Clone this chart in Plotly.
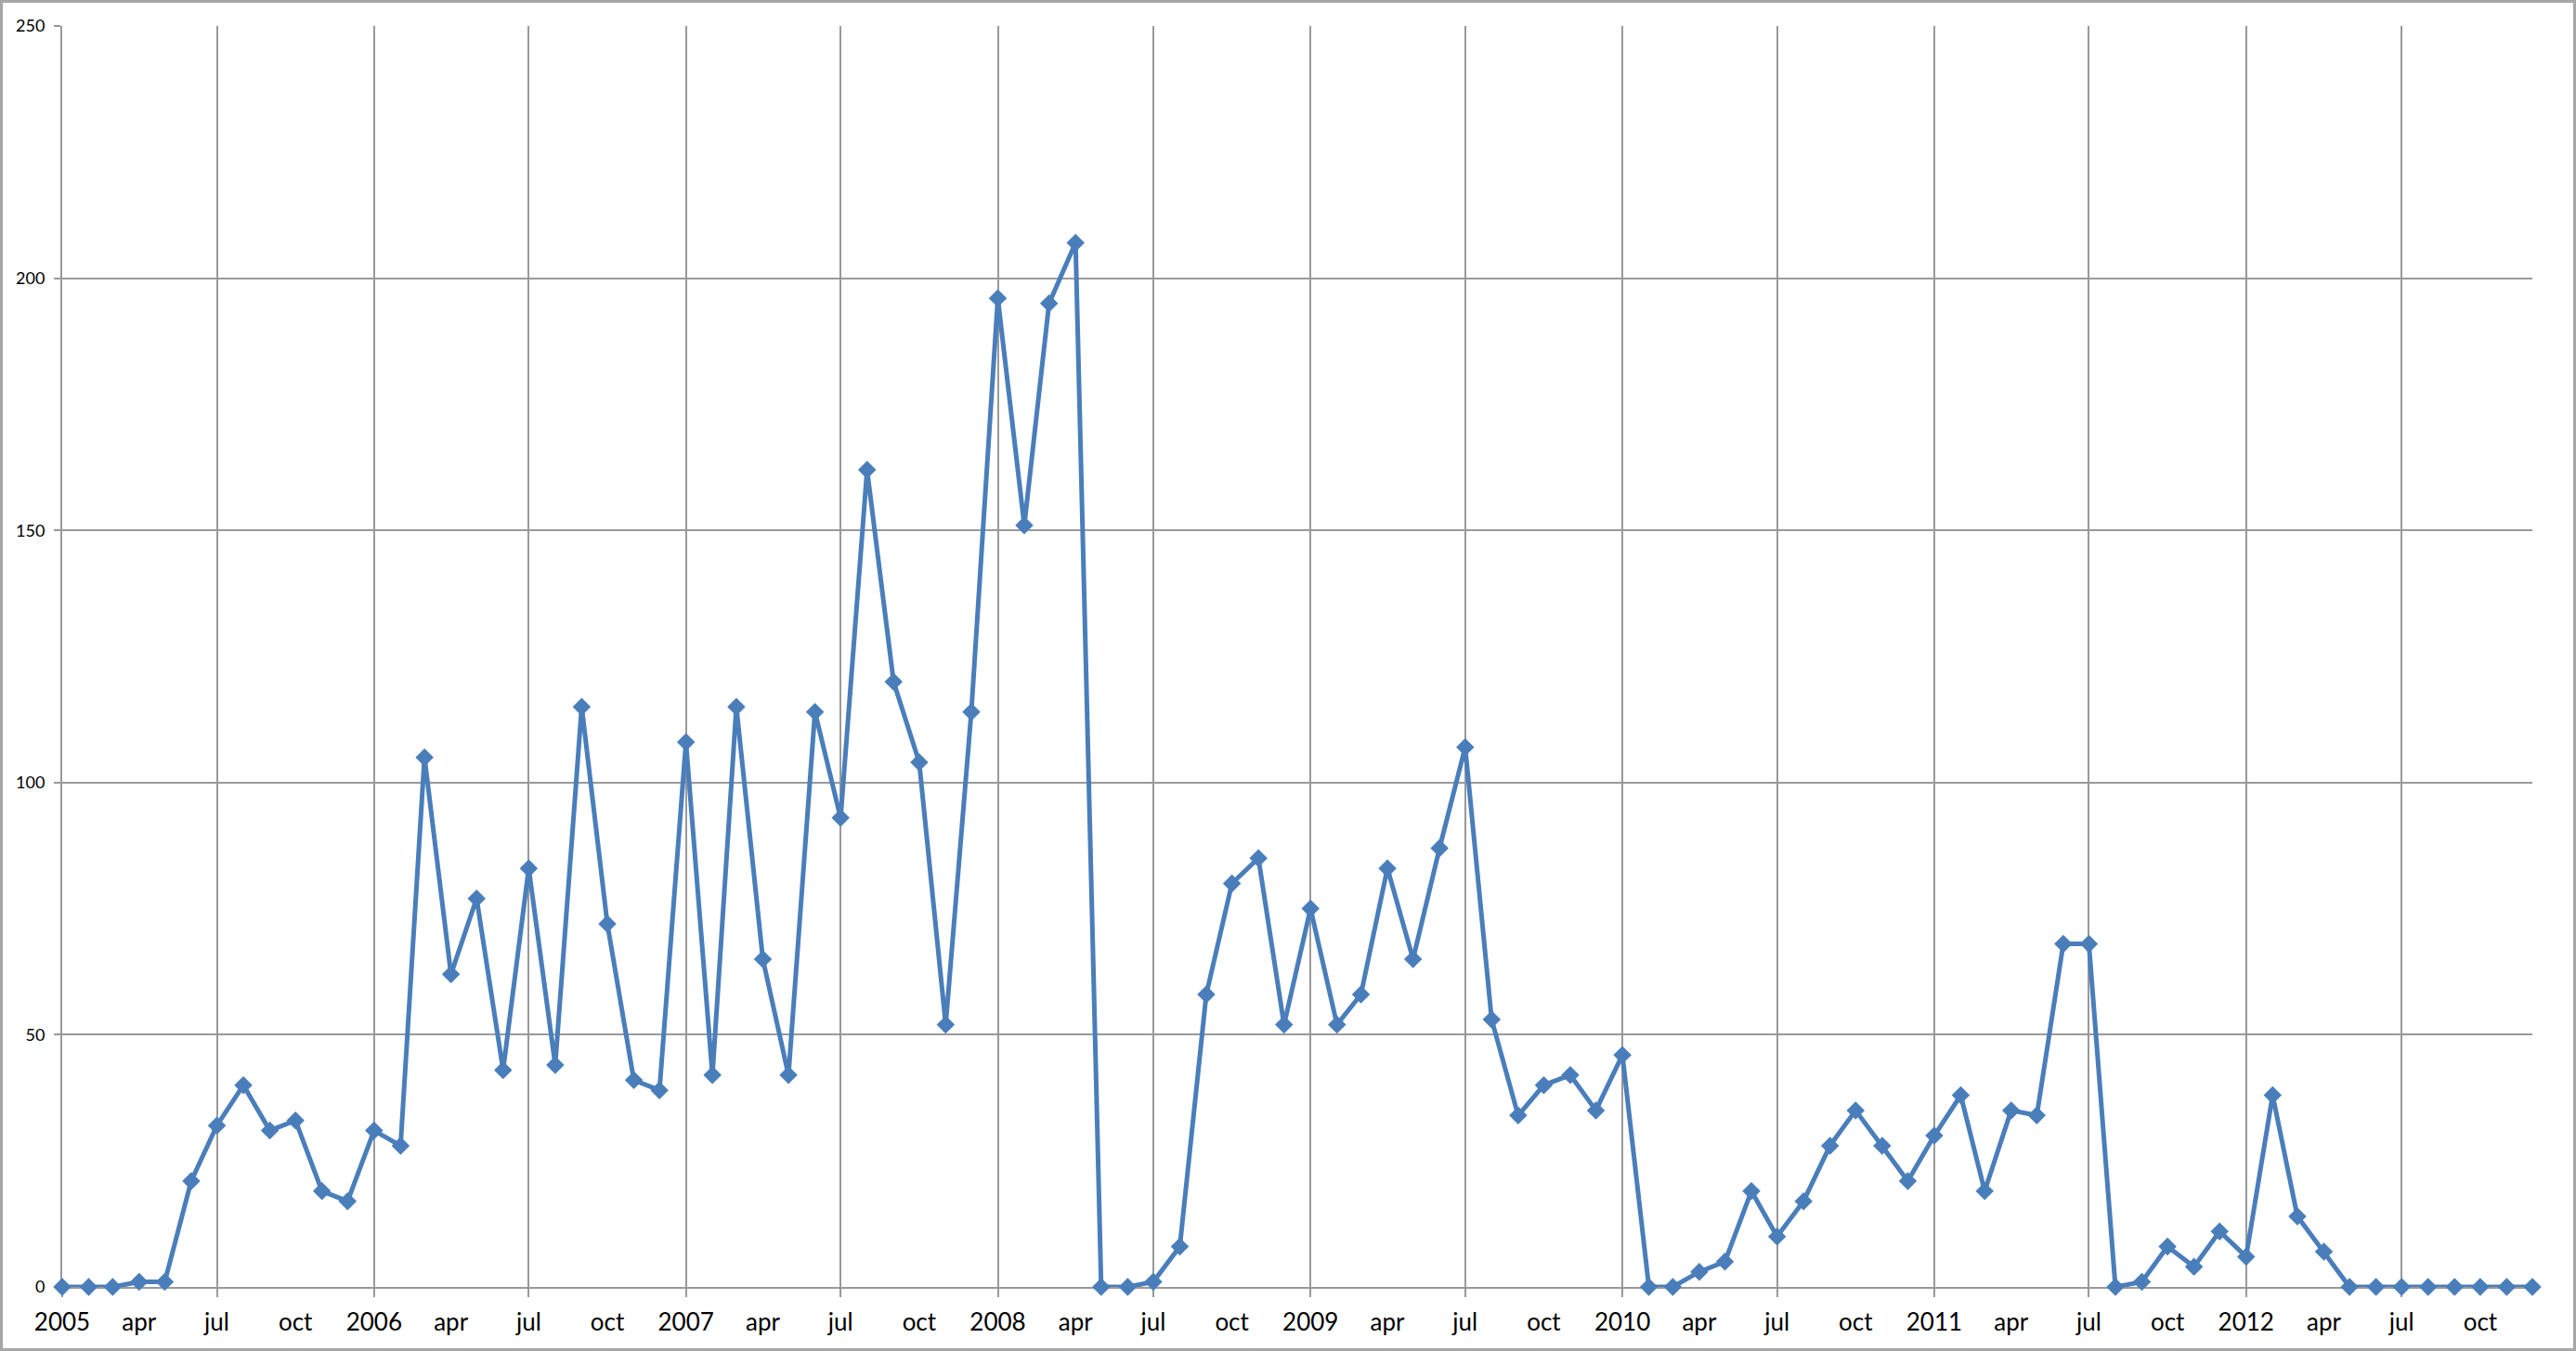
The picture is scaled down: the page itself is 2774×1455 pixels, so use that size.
import pandas as pd
import plotly.graph_objects as go

# monthly counts
counts_2005 = [0, 0, 0, 1, 1, 21, 32, 40, 31, 33, 19, 17]
counts_2006 = [31, 28, 105, 62, 77, 43, 83, 44, 115, 72, 41, 39]
counts_2007 = [108, 42, 115, 65, 42, 114, 93, 162, 120, 104, 52, 114]
counts_2008 = [196, 151, 195, 207, 0, 0, 1, 8, 58, 80, 85, 52]
counts_2009 = [75, 52, 58, 83, 65, 87, 107, 53, 34, 40, 42, 35]
counts_2010 = [46, 0, 0, 3, 5, 19, 10, 17, 28, 35, 28, 21]
counts_2011 = [30, 38, 19, 35, 34, 68, 68, 0, 1, 8, 4, 11]
counts_2012 = [6, 38, 14, 7, 0, 0, 0, 0, 0, 0, 0, 0]

counts = (counts_2005 + counts_2006 + counts_2007 + counts_2008
          + counts_2009 + counts_2010 + counts_2011 + counts_2012)
months = pd.date_range("2005-01-01", periods=len(counts), freq="MS")

# labels every 3 months, gridlines every 6 months
label_months = months[::3]
label_text = [str(d.year) if d.month == 1 else d.strftime("%b").lower() for d in label_months]
grid_months = months[::6]

W, H = 2774, 1455
L, R, T, B = 67, 47, 28, 69
GRID = "#999999"
BLUE = "#4A7EBB"
FONT = "Lato"

fig = go.Figure()
fig.add_trace(go.Scatter(
    x=months, y=counts,
    mode="lines+markers",
    line=dict(color=BLUE, width=5),
    marker=dict(symbol="diamond", size=15, color=BLUE),
    cliponaxis=False,
    showlegend=False,
))
# empty carrier trace so the label axis gets drawn
fig.add_trace(go.Scatter(
    x=months, y=counts, xaxis="x2",
    mode="none", hoverinfo="skip", showlegend=False,
))

xrange = [months[0], months[-1]]

fig.update_layout(
    width=W, height=H,
    margin=dict(l=L, r=R, t=T, b=B),
    paper_bgcolor="white",
    plot_bgcolor="white",
    font=dict(family=FONT, color="black"),
    xaxis=dict(
        type="date",
        range=xrange,
        tickmode="array",
        tickvals=grid_months,
        showticklabels=False,
        showgrid=True, gridcolor=GRID, gridwidth=2,
        ticks="outside", ticklen=9, tickwidth=2, tickcolor=GRID,
        showline=True, linecolor=GRID, linewidth=2,
        zeroline=False,
        layer="below traces",
    ),
    xaxis2=dict(
        type="date",
        overlaying="x",
        side="bottom",
        range=xrange,
        tickmode="array",
        tickvals=label_months,
        ticktext=label_text,
        showgrid=False,
        ticks="",
        showline=False,
        zeroline=False,
        tickfont=dict(family=FONT, size=26, color="black"),
        ticklabelstandoff=20,
        layer="below traces",
    ),
    yaxis=dict(
        range=[0, 250],
        tickmode="linear", tick0=0, dtick=50,
        showgrid=True, gridcolor=GRID, gridwidth=2,
        ticks="outside", ticklen=7, tickwidth=2, tickcolor=GRID,
        showline=True, linecolor=GRID, linewidth=2,
        zeroline=False,
        tickfont=dict(family=FONT, size=18, color="black"),
        ticklabelstandoff=6,
        layer="below traces",
    ),
)

# outer chart border around the whole picture
pw, ph = W - L - R, H - T - B
fig.add_shape(
    type="rect", xref="paper", yref="paper",
    x0=(1.5 - L) / pw, x1=(W - 1.5 - L) / pw,
    y0=-(B - 1.5) / ph, y1=1 + (T - 1.5) / ph,
    line=dict(color="#a6a6a6", width=3),
    layer="below",
)

fig.write_html(
    "out.html",
    config={"displayModeBar": False},
    post_script="document.body.style.margin='0';document.body.style.overflow='hidden';",
)
